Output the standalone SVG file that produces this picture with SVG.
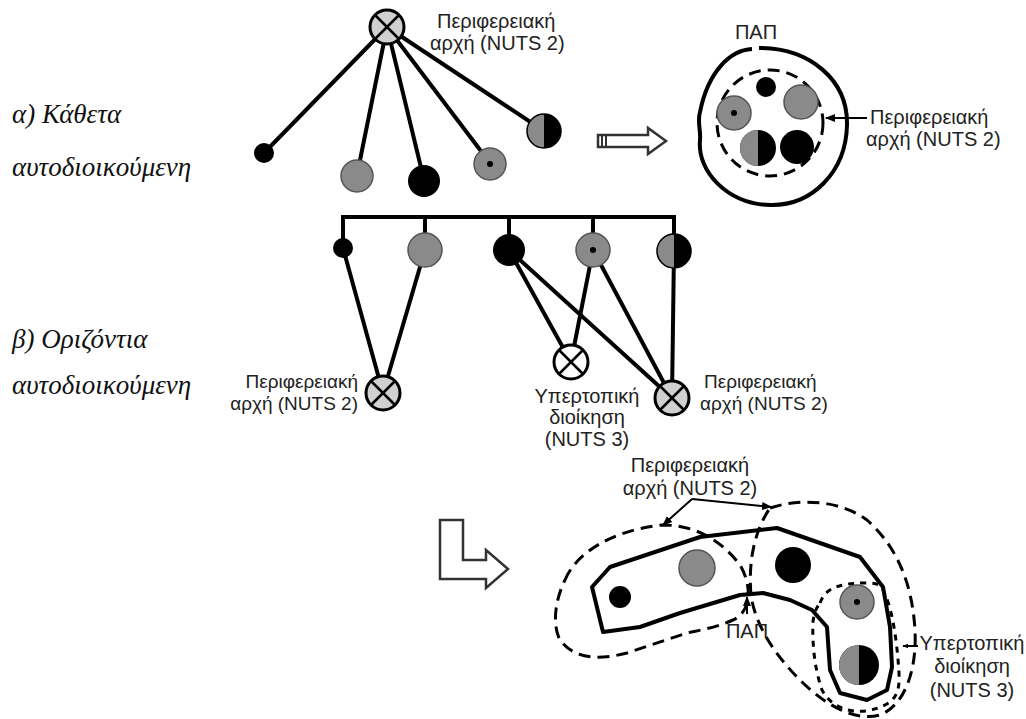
<svg xmlns="http://www.w3.org/2000/svg" width="1026" height="719" viewBox="0 0 1026 719">
<defs>
<style>
.lbl{font-family:"Liberation Sans","DejaVu Sans",sans-serif;font-size:20px;fill:#222}
.sm{font-size:19px}
.ttl{font-family:"Liberation Serif","DejaVu Serif",serif;font-style:italic;font-size:27px;fill:#111}
.con{stroke:#000;stroke-width:4;fill:none;stroke-linecap:round}
.g{fill:#8a8a8a;stroke:#555;stroke-width:1.5}
.b{fill:#000}
.xn{fill:#d0d0d0;stroke:#000;stroke-width:3}
.xw{fill:#fff;stroke:#000;stroke-width:3}
.xl{stroke:#000;stroke-width:2.5}
.solid{fill:none;stroke:#000;stroke-width:4;stroke-linejoin:round}
.dash{fill:none;stroke:#000;stroke-width:3;stroke-dasharray:12 7}
.sdash{fill:none;stroke:#000;stroke-width:3;stroke-dasharray:6 6}
.thin{stroke:#000;stroke-width:2;fill:none}
.hol{fill:#fff;stroke:#333;stroke-width:2.5;stroke-linejoin:miter}
</style>
<marker id="ah" viewBox="0 0 10 10" refX="9" refY="5" markerWidth="6" markerHeight="6" orient="auto-start-reverse" markerUnits="userSpaceOnUse">
<path d="M0,1 L10,5 L0,9 Z" fill="#000"/>
</marker>
<marker id="ah2" viewBox="0 0 10 10" refX="9" refY="5" markerWidth="10" markerHeight="10" orient="auto" markerUnits="userSpaceOnUse">
<path d="M0,1 L10,5 L0,9 Z" fill="#000"/>
</marker>
</defs>
<rect width="1026" height="719" fill="#fff"/>

<!-- titles -->
<text class="ttl" x="12" y="123">α) Κάθετα</text>
<text class="ttl" x="12" y="176">αυτοδιοικούμενη</text>
<text class="ttl" x="12" y="348">β) Οριζόντια</text>
<text class="ttl" x="12" y="394">αυτοδιοικούμενη</text>

<!-- connectors -->
<g id="connectors">
<line class="con" x1="387" y1="27" x2="264" y2="153"/>
<line class="con" x1="387" y1="27" x2="357" y2="175"/>
<line class="con" x1="387" y1="27" x2="424" y2="180"/>
<line class="con" x1="387" y1="27" x2="490" y2="163"/>
<line class="con" x1="387" y1="27" x2="544" y2="131"/>
<polyline class="con" points="343,248 343,217 674,217 674,250"/>
<line class="con" x1="425" y1="217" x2="425" y2="250"/>
<line class="con" x1="509" y1="217" x2="509" y2="250"/>
<line class="con" x1="593" y1="217" x2="593" y2="250"/>
<line class="con" x1="343" y1="248" x2="383" y2="393"/>
<line class="con" x1="425" y1="250" x2="383" y2="393"/>
<line class="con" x1="509" y1="250" x2="571" y2="362"/>
<line class="con" x1="509" y1="250" x2="672" y2="398"/>
<line class="con" x1="593" y1="250" x2="571" y2="362"/>
<line class="con" x1="593" y1="250" x2="672" y2="398"/>
<line class="con" x1="674" y1="250" x2="672" y2="398"/>
</g>

<!-- part a nodes -->
<g id="a-top"><circle class="xn" cx="387" cy="27" r="17"/><line class="xl" x1="375" y1="15" x2="399" y2="39"/><line class="xl" x1="399" y1="15" x2="375" y2="39"/></g>
<g id="a-top-label"><text class="lbl" x="437" y="28">Περιφερειακή</text><text class="lbl" x="430" y="50">αρχή (NUTS 2)</text></g>
<g id="a-n1"><circle class="b" cx="264" cy="153" r="10"/></g>
<g id="a-n2"><circle class="g" cx="357" cy="176" r="16"/></g>
<g id="a-n3"><circle class="b" cx="424" cy="181" r="16"/></g>
<g id="a-n4"><circle class="g" cx="490" cy="164" r="16"/><circle class="b" cx="490" cy="164" r="3"/></g>
<g id="a-n5"><circle cx="544" cy="131" r="17" fill="#000"/><path d="M544,114 A17,17 0 0 0 544,148 Z" fill="#8a8a8a"/><circle cx="544" cy="131" r="17" fill="none" stroke="#000" stroke-width="1.5"/></g>

<!-- hollow arrow -->
<g id="arrow-a">
<path class="hol" d="M598,135 L648,135 L648,128 L666,141 L648,154 L648,147 L598,147 Z"/>
<line x1="602" y1="135" x2="602" y2="147" stroke="#333" stroke-width="2"/>
<line x1="606" y1="135" x2="606" y2="147" stroke="#333" stroke-width="2"/>
</g>

<!-- part a result -->
<g id="a-result">
<text class="lbl" x="756" y="39" text-anchor="middle">ΠΑΠ</text>
<path class="solid" d="M759,48 C810,48 848,80 847,125 C846,172 812,206 770,205 C728,204 697,172 700,140 C701,130 697,122 700,112 C708,72 730,50 752,49"/>
<circle class="dash" cx="770" cy="123" r="53"/>
<circle class="b" cx="766" cy="87" r="10"/>
<circle class="g" cx="801" cy="102" r="17"/>
<circle class="g" cx="734" cy="113" r="17"/><circle class="b" cx="734" cy="113" r="3"/>
<circle cx="758" cy="148" r="18" fill="#000"/><path d="M758,130 A18,18 0 0 0 758,166 Z" fill="#8a8a8a"/>
<circle class="b" cx="797" cy="147" r="17"/>
<line class="thin" x1="867" y1="118" x2="826" y2="118" marker-end="url(#ah2)"/>
<text class="lbl" x="870" y="124">Περιφερειακή</text>
<text class="lbl" x="866" y="146">αρχή (NUTS 2)</text>
</g>

<!-- part b nodes -->
<g id="b-n1"><circle class="b" cx="343" cy="248" r="10"/></g>
<g id="b-n2"><circle class="g" cx="425" cy="250" r="17"/></g>
<g id="b-n3"><circle class="b" cx="509" cy="250" r="16"/></g>
<g id="b-n4"><circle class="g" cx="593" cy="250" r="17"/><circle class="b" cx="593" cy="250" r="3"/></g>
<g id="b-n5"><circle cx="674" cy="251" r="17" fill="#000"/><path d="M674,234 A17,17 0 0 0 674,268 Z" fill="#8a8a8a"/><circle cx="674" cy="251" r="17" fill="none" stroke="#000" stroke-width="1.5"/></g>
<g id="b-x1"><circle class="xn" cx="383" cy="393" r="17"/><line class="xl" x1="371" y1="381" x2="395" y2="405"/><line class="xl" x1="395" y1="381" x2="371" y2="405"/></g>
<g id="b-x2"><circle class="xw" cx="571" cy="362" r="17"/><line class="xl" x1="559" y1="350" x2="583" y2="374"/><line class="xl" x1="583" y1="350" x2="559" y2="374"/></g>
<g id="b-x3"><circle class="xn" cx="672" cy="398" r="17"/><line class="xl" x1="660" y1="386" x2="684" y2="410"/><line class="xl" x1="684" y1="386" x2="660" y2="410"/></g>
<g id="b-labels">
<text class="lbl sm" x="358" y="388" text-anchor="end">Περιφερειακή</text>
<text class="lbl sm" x="358" y="410" text-anchor="end">αρχή (NUTS 2)</text>
<text class="lbl" x="587" y="403" text-anchor="middle">Υπερτοπική</text>
<text class="lbl" x="587" y="424" text-anchor="middle">διοίκηση</text>
<text class="lbl" x="587" y="446" text-anchor="middle">(NUTS 3)</text>
<text class="lbl sm" x="704" y="388">Περιφερειακή</text>
<text class="lbl sm" x="700" y="410">αρχή (NUTS 2)</text>
</g>

<!-- L arrow -->
<g id="arrow-b">
<path class="hol" d="M440,520 L463,520 L463,560 L486,560 L486,550 L508,569 L486,588 L486,579 L440,579 Z"/>
</g>

<!-- part b result -->
<g id="b-result">
<text class="lbl" x="690" y="472" text-anchor="middle">Περιφερειακή</text>
<text class="lbl" x="690" y="495" text-anchor="middle">αρχή (NUTS 2)</text>
<polyline class="thin" points="692,499 663,525" marker-end="url(#ah2)"/>
<polyline class="thin" points="692,499 771,507" marker-end="url(#ah2)"/>
<path class="dash" d="M565,580 C575,555 610,530 663,525 C700,525 725,545 740,565 C752,585 752,612 733,620 C715,628 700,630 687,633 L627,653 C600,660 575,660 560,640 C552,625 555,600 565,580 Z"/>
<path class="dash" d="M770,508 C800,498 840,500 867,520 C895,545 912,580 915,630 C917,670 905,705 880,715 C855,722 825,705 800,680 C775,655 755,625 751,595 C748,560 755,530 770,508 Z"/>
<path class="solid" d="M592,587 L610,567 L700,537 L777,528 L860,557 L883,587 L890,627 L892,667 L887,690 L867,700 L840,693 L830,670 L827,627 L812,610 L790,600 L763,593 L740,595 L680,613 L640,627 L603,632 Z"/>
<path class="sdash" d="M820,603 C825,590 835,583 867,583 C877,583 880,585 882,588 C892,605 897,640 899,673 C900,695 895,705 867,711 C845,713 830,705 822,690 C815,670 812,645 813,622 C814,612 817,607 820,603 Z"/>
<line class="thin" x1="747" y1="614" x2="747" y2="597" marker-end="url(#ah2)"/>
<text class="lbl" x="747" y="638" text-anchor="middle">ΠΑΠ</text>
<circle class="b" cx="620" cy="597" r="11"/>
<circle class="g" cx="697" cy="568" r="18"/>
<circle class="b" cx="793" cy="565" r="18"/>
<circle class="g" cx="857" cy="602" r="17"/><circle class="b" cx="857" cy="602" r="3"/>
<circle cx="859" cy="665" r="20" fill="#000"/><path d="M859,645 A20,20 0 0 0 859,685 Z" fill="#8a8a8a"/>
<line class="thin" x1="918" y1="646" x2="903" y2="646" marker-end="url(#ah)"/>
<text class="lbl" x="972" y="650" text-anchor="middle">Υπερτοπική</text>
<text class="lbl" x="972" y="673" text-anchor="middle">διοίκηση</text>
<text class="lbl" x="972" y="697" text-anchor="middle">(NUTS 3)</text>
</g>
</svg>
